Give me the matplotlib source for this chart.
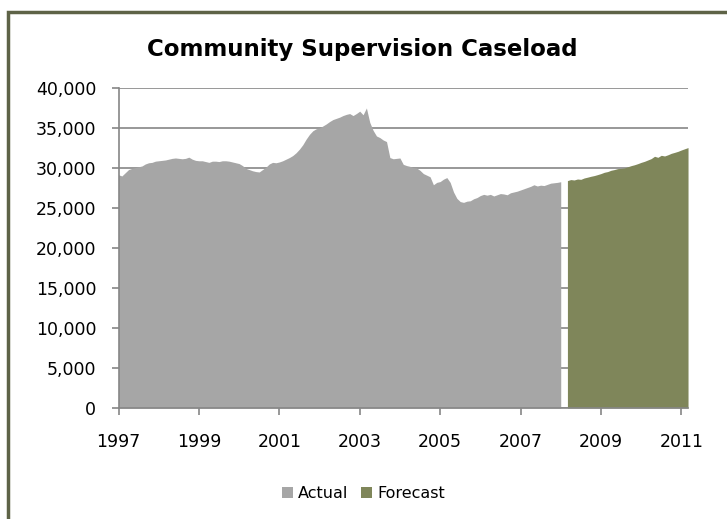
import matplotlib.pyplot as plt
from matplotlib.patches import Rectangle

# monthly caseload, Jan 1997 - Jan 2008 (actual)
actual = [
    29150, 29000, 29400, 29800, 29950, 30050, 30150, 30250, 30500, 30650,
    30700, 30850, 30900, 30950, 31000, 31100, 31200, 31250, 31200, 31150,
    31200, 31350, 31100, 30950, 30900, 30900, 30800, 30700, 30850, 30850,
    30800, 30900, 30900, 30850, 30750, 30650, 30550, 30300, 29950, 29800,
    29650, 29550, 29500, 29800, 30100, 30500, 30700, 30650, 30750, 30900,
    31100, 31300, 31550, 31900, 32350, 32900, 33600, 34200, 34650, 34900,
    35000, 35250, 35500, 35800, 36050, 36200, 36350, 36550, 36700, 36800,
    36550, 36800, 37100, 36650, 37500, 35700, 34700, 34000, 33800, 33500,
    33300, 31300, 31150, 31200, 31250, 30450, 30300, 30200, 30050, 30000,
    29700, 29300, 29100, 28900, 27900, 28200, 28300, 28600, 28800, 28200,
    27000, 26200, 25800, 25700, 25850, 25900, 26150, 26300, 26550, 26700,
    26600, 26700, 26500, 26650, 26800, 26750, 26650, 26900, 27000, 27100,
    27250, 27400, 27550, 27700, 27900, 27750, 27850, 27800, 27950, 28100,
    28150, 28200, 28280,
]

# monthly forecast, Mar 2008 - Mar 2011
forecast = [
    28420, 28550, 28500, 28620, 28580, 28750, 28850, 28960, 29050, 29170,
    29300, 29460, 29550, 29710, 29800, 29920, 29950, 30000, 30150, 30290,
    30400, 30540, 30700, 30830, 31000, 31170, 31460, 31330, 31580, 31500,
    31650, 31830, 31950, 32080, 32250, 32400, 32550,
]
forecast_start = 134  # month index of first forecast point

year_labels = ["1997", "1999", "2001", "2003", "2005", "2007", "2009", "2011"]

x_actual = list(range(len(actual)))
x_forecast = list(range(forecast_start, forecast_start + len(forecast)))

plt.rcParams["font.family"] = ["DejaVu Sans"]

fig = plt.figure(figsize=(7.27, 5.19), dpi=100)
ax = fig.add_axes([0.163, 0.2139, 0.7834, 0.6166])

# outer chart border (only left and top visible in the crop)
fig.patches.append(Rectangle((0.011, -0.1), 1.2, 1.077, transform=fig.transFigure,
                             fill=False, edgecolor="#5E6347", linewidth=2.5))

ax.fill_between(x_actual, actual, 0, color="#A6A6A6", linewidth=0, label="Actual", zorder=2)
ax.fill_between(x_forecast, forecast, 0, color="#7F865A", linewidth=0, label="Forecast", zorder=2)

ax.set_xlim(0, 170)
ax.set_ylim(0, 40000)
ax.set_yticks(range(0, 40001, 5000))
ax.set_yticklabels([f"{v:,}" for v in range(0, 40001, 5000)])
ax.set_xticks(range(0, 170, 24))
ax.set_xticklabels(year_labels)

ax.grid(axis="y", color="#868686", linewidth=1.2, zorder=1)
ax.set_axisbelow(True)
for s in ["top", "right"]:
    ax.spines[s].set_visible(False)
for s in ["left", "bottom"]:
    ax.spines[s].set_color("#868686")
    ax.spines[s].set_linewidth(1.2)
    ax.spines[s].set_zorder(3)

ax.tick_params(axis="y", length=5, color="#868686", width=1.2, pad=11, labelsize=12.5)
ax.tick_params(axis="x", length=5, color="#868686", width=1.2, pad=13, labelsize=12.5)

fig.text(0.498, 0.905, "Community Supervision Caseload", ha="center", va="center",
         fontsize=16.5, fontweight="bold")

ax.legend(loc="upper center", bbox_to_anchor=(0.43, -0.2), ncol=2, frameon=False,
          fontsize=11.5, handlelength=0.7, handleheight=0.7, handletextpad=0.3,
          columnspacing=0.8)

fig.savefig("out.png", dpi=100)
